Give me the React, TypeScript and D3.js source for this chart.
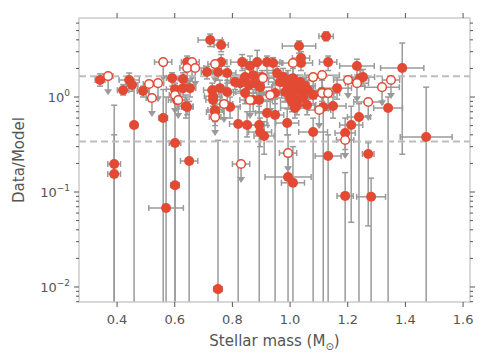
import React from "react";
import * as d3 from "d3";

// detections (filled markers)
const detMass = [0.341, 0.442, 0.452, 0.421, 0.490, 0.560, 0.459, 0.591, 0.643, 0.629, 0.601, 0.629, 0.653, 0.608, 0.643,
  0.723, 0.761, 0.761, 0.782, 0.750, 0.712, 0.834, 0.861, 0.886, 0.920, 0.941, 1.031, 1.038, 1.038, 0.844,
  0.872, 0.903, 0.809, 0.827, 0.858, 0.879, 0.896, 0.955, 0.976, 0.993, 1.010, 1.035, 0.990, 1.017, 1.035,
  1.010, 1.000, 1.028, 1.062, 1.080, 1.125, 0.782, 0.757, 0.730, 0.733, 0.740, 0.792, 0.844, 0.872, 0.893,
  0.948, 0.920, 0.948, 0.990, 0.820, 0.851, 0.893, 0.896, 1.080, 1.132, 1.232, 1.389, 1.243, 1.253, 1.163,
  1.111, 1.149, 1.115, 1.340, 1.239, 1.212, 1.191, 1.472, 1.132, 1.271, 0.993, 1.010, 1.191, 1.281, 0.601,
  0.650, 0.601, 0.570, 0.750, 0.390, 0.390, 0.733, 0.740, 0.910, 1.007, 1.024, 1.045, 1.052, 0.983, 0.965,
  1.059, 1.017, 0.639];
const detMassErr = [0.017, 0.035, 0.020, 0.020, 0.020, 0.015, 0.012, 0.020, 0.020, 0.030, 0.030, 0.020, 0.020, 0.030, 0.020,
  0.042, 0.025, 0.020, 0.030, 0.025, 0.020, 0.040, 0.030, 0.035, 0.045, 0.030, 0.058, 0.030, 0.040, 0.050,
  0.030, 0.040, 0.030, 0.025, 0.045, 0.030, 0.040, 0.035, 0.050, 0.030, 0.045, 0.030, 0.050, 0.035, 0.040,
  0.030, 0.060, 0.035, 0.040, 0.050, 0.025, 0.030, 0.020, 0.030, 0.025, 0.030, 0.035, 0.040, 0.030, 0.045,
  0.030, 0.040, 0.030, 0.040, 0.030, 0.035, 0.030, 0.040, 0.050, 0.030, 0.060, 0.075, 0.030, 0.040, 0.050,
  0.040, 0.045, 0.030, 0.050, 0.040, 0.040, 0.035, 0.090, 0.045, 0.020, 0.080, 0.040, 0.028, 0.050, 0.020,
  0.030, 0.015, 0.060, 0.015, 0.022, 0.022, 0.030, 0.025, 0.035, 0.040, 0.030, 0.045, 0.035, 0.030, 0.040,
  0.030, 0.050, 0.025];
const detRatio = [1.51, 1.51, 1.34, 1.18, 1.16, 0.601, 0.507, 1.58, 2.33, 1.55, 1.21, 1.24, 1.24, 0.93, 0.785,
  3.98, 3.53, 2.33, 1.79, 1.83, 1.83, 2.33, 2.12, 2.33, 2.33, 2.28, 3.44, 2.57, 2.28, 1.62,
  1.70, 1.62, 1.44, 1.40, 1.34, 1.40, 1.27, 1.79, 1.62, 1.51, 1.58, 1.44, 1.34, 1.27, 1.18,
  1.10, 0.976, 0.93, 1.18, 1.05, 4.35, 1.13, 1.24, 1.18, 0.93, 0.695, 0.785, 1.10, 0.93, 0.93,
  1.10, 0.678, 0.646, 0.532, 0.520, 0.507, 0.507, 0.428, 0.428, 2.33, 2.12, 2.02, 1.58, 1.62, 1.24,
  1.13, 0.804, 0.785, 0.766, 0.616, 0.507, 0.418, 0.38, 0.239, 0.251, 0.144, 0.125, 0.091, 0.089, 0.328,
  0.212, 0.118, 0.068, 0.0095, 0.197, 0.155, 1.02, 0.73, 0.389, 0.886, 0.824, 1.0, 1.31, 1.13, 1.44,
  0.824, 0.766, 0.80];
// upper and lower ends of the y error bars (0 = runs below the axis)
const detHi = [1.75, 1.79, 1.55, 1.35, 1.30, 1.20, 1.40, 1.80, 2.70, 1.80, 1.40, 1.45, 1.50, 1.10, 0.95,
  4.60, 4.00, 2.80, 2.10, 2.30, 2.10, 2.80, 2.70, 3.10, 2.70, 2.60, 3.90, 3.00, 2.70, 2.00,
  2.10, 1.90, 1.70, 1.70, 1.60, 1.80, 1.50, 2.10, 2.00, 1.90, 2.00, 1.70, 1.70, 1.60, 1.50,
  1.40, 1.30, 1.20, 1.50, 1.30, 4.85, 1.40, 1.50, 1.40, 1.15, 0.90, 1.00, 1.40, 1.20, 1.20,
  1.40, 0.90, 0.95, 0.75, 0.80, 0.70, 0.80, 0.60, 0.60, 2.70, 2.50, 3.70, 1.90, 1.95, 1.60,
  1.50, 1.00, 1.00, 1.00, 0.85, 0.80, 0.60, 1.27, 0.40, 0.33, 0.40, 0.30, 0.16, 0.14, 1.00,
  0.90, 0.35, 1.00, 0.35, 0.82, 0.40, 1.30, 0.95, 0.55, 1.10, 1.05, 1.25, 1.60, 1.40, 1.80,
  1.05, 0.95, 1.05];
const detLo = [1.30, 1.30, 1.15, 1.05, 1.00, 0, 0, 1.30, 2.00, 1.30, 0.95, 1.00, 1.00, 0.75, 0.65,
  3.40, 3.00, 1.90, 1.50, 1.50, 1.55, 1.90, 1.70, 1.80, 1.90, 1.90, 2.90, 2.20, 1.90, 1.30,
  1.35, 1.35, 1.20, 1.15, 1.10, 1.10, 1.05, 1.50, 1.30, 1.25, 1.20, 1.20, 1.05, 1.00, 0.95,
  0.90, 0.75, 0.75, 0.95, 0.85, 3.90, 0.90, 1.00, 0.95, 0.75, 0.50, 0.60, 0.85, 0.70, 0.70,
  0.85, 0.50, 0, 0.40, 0, 0.38, 0, 0.30, 0, 1.90, 1.70, 0.25, 1.30, 1.30, 0.95,
  0.90, 0.60, 0, 0, 0, 0.048, 0.28, 0, 0, 0.044, 0, 0, 0, 0, 0,
  0, 0, 0, 0, 0, 0, 0.80, 0.55, 0.25, 0.70, 0.65, 0.80, 1.05, 0.90, 1.15,
  0.65, 0.60, 0.60];

// upper limits (open markers with arrows)
const limMass = [0.369, 0.511, 0.542, 0.521, 0.560, 0.660, 0.643, 0.671, 0.601, 0.740, 0.906, 1.010, 1.080, 1.111, 0.740,
  0.771, 0.861, 0.931, 1.101, 1.201, 1.232, 1.319, 1.350, 1.132, 1.271, 1.111, 0.993, 1.191, 0.830, 0.612];
const limMassErr = [0.017, 0.020, 0.020, 0.020, 0.030, 0.025, 0.025, 0.030, 0.020, 0.025, 0.040, 0.035, 0.030, 0.040, 0.020,
  0.030, 0.035, 0.040, 0.040, 0.050, 0.040, 0.060, 0.030, 0.040, 0.050, 0.060, 0.030, 0.030, 0.030, 0.025];
const limRatio = [1.66, 1.37, 1.40, 0.976, 2.33, 2.33, 2.02, 2.02, 1.05, 2.22, 1.58, 2.28, 1.62, 1.10, 0.616,
  0.844, 0.93, 1.05, 0.73, 1.51, 1.40, 1.27, 1.51, 1.10, 0.886, 1.70, 0.257, 0.353, 0.197, 0.93];

const xTicks = [0.4, 0.6, 0.8, 1.0, 1.2, 1.4, 1.6];
const yTicks = [0.01, 0.1, 1];
const yTickExp = ["−2", "−1", "0"];
const bands = [1.65, 0.34];

const W = 488, H = 364;
const L = 79, R = 470, T = 18, B = 302;
const red = "#E24A33";
const grey = "#9a9a9a";
const font = "DejaVu Sans, sans-serif";

export default function App() {
  const x = d3.scaleLinear().domain([0.268, 1.624]).range([L, R]);
  const y = d3.scaleLog().domain([0.00695, 6.79]).range([B, T]);
  const minor: number[] = [];
  [0.001, 0.01, 0.1, 1].forEach((dec) => {
    for (let k = 2; k <= 9; k++) {
      const v = dec * k;
      if (v > 0.00695 && v < 6.79) minor.push(v);
    }
  });
  const cap = 3;
  const yEnd = (v: number) => (v === 0 ? B + 20 : y(v));

  return (
    <svg width={W} height={H} style={{ position: "absolute", left: 0, top: 0 }} fontFamily={font}>
      <defs>
        <clipPath id="plot">
          <rect x={L} y={T} width={R - L} height={B - T} />
        </clipPath>
      </defs>
      <rect width={W} height={H} fill="#fff" />
      <g clipPath="url(#plot)" stroke={grey} strokeWidth={1.5} fill="none">
        {detMass.map((m, i) => {
          const cx = x(m), cy = y(detRatio[i]);
          const x0 = x(m - detMassErr[i]), x1 = x(m + detMassErr[i]);
          const yHi = y(detHi[i]), yLo = yEnd(detLo[i]);
          return (
            <g key={"d" + i}>
              <line x1={x0} x2={x1} y1={cy} y2={cy} />
              <line x1={x0} x2={x0} y1={cy - cap} y2={cy + cap} />
              <line x1={x1} x2={x1} y1={cy - cap} y2={cy + cap} />
              <line x1={cx} x2={cx} y1={yHi} y2={yLo} />
              <line x1={cx - cap} x2={cx + cap} y1={yHi} y2={yHi} />
              {detLo[i] > 0 && <line x1={cx - cap} x2={cx + cap} y1={yLo} y2={yLo} />}
            </g>
          );
        })}
        {limMass.map((m, i) => {
          const cx = x(m), cy = y(limRatio[i]);
          const x0 = x(m - limMassErr[i]), x1 = x(m + limMassErr[i]);
          const tip = y(limRatio[i] * 0.63);
          return (
            <g key={"l" + i}>
              <line x1={x0} x2={x1} y1={cy} y2={cy} />
              <line x1={x0} x2={x0} y1={cy - cap} y2={cy + cap} />
              <line x1={x1} x2={x1} y1={cy - cap} y2={cy + cap} />
              <line x1={cx} x2={cx} y1={cy} y2={tip - 3} />
              <path d={`M${cx - 4},${tip - 6}L${cx + 4},${tip - 6}L${cx},${tip}Z`} fill={grey} stroke="none" />
            </g>
          );
        })}
      </g>
      {bands.map((b) => (
        <line key={b} x1={L} x2={R} y1={y(b)} y2={y(b)} stroke="#bdbdbd" strokeWidth={2} strokeDasharray="7,4" />
      ))}
      <g clipPath="url(#plot)">
        {detMass.map((m, i) => (
          <circle key={"dc" + i} cx={x(m)} cy={y(detRatio[i])} r={5} fill={red} />
        ))}
        {limMass.map((m, i) => (
          <circle key={"lc" + i} cx={x(m)} cy={y(limRatio[i])} r={4.3} fill="#fff" stroke={red} strokeWidth={1.5} />
        ))}
      </g>
      <rect x={L} y={T} width={R - L} height={B - T} fill="none" stroke="#c4c4c4" strokeWidth={1.3} />
      <g stroke="#555" strokeWidth={1}>
        {xTicks.map((t) => (
          <g key={t}>
            <line x1={x(t)} x2={x(t)} y1={B} y2={B + 5} />
            <line x1={x(t)} x2={x(t)} y1={T} y2={T - 5} />
          </g>
        ))}
        {yTicks.map((t) => (
          <g key={t}>
            <line x1={L} x2={L - 5} y1={y(t)} y2={y(t)} />
            <line x1={R} x2={R + 5} y1={y(t)} y2={y(t)} />
          </g>
        ))}
        {minor.map((t) => (
          <g key={"m" + t}>
            <line x1={L} x2={L - 3} y1={y(t)} y2={y(t)} />
            <line x1={R} x2={R + 3} y1={y(t)} y2={y(t)} />
          </g>
        ))}
      </g>
      <g fill="#555" fontSize={13}>
        {xTicks.map((t) => (
          <text key={t} x={x(t)} y={B + 22} textAnchor="middle">{d3.format(".1f")(t)}</text>
        ))}
        {yTicks.map((t, i) => (
          <text key={t} x={L - 9} y={y(t) + 5} textAnchor="end">
            10<tspan fontSize={9} dy={-6}>{yTickExp[i]}</tspan>
          </text>
        ))}
      </g>
      <text x={(L + R) / 2} y={346} textAnchor="middle" fontSize={15} fill="#555">
        Stellar mass (M<tspan fontSize={10} dy={4}>⊙</tspan><tspan dy={-4}>)</tspan>
      </text>
      <text transform={`translate(24,${(T + B) / 2}) rotate(-90)`} textAnchor="middle" fontSize={15} fill="#555">
        Data/Model
      </text>
    </svg>
  );
}
